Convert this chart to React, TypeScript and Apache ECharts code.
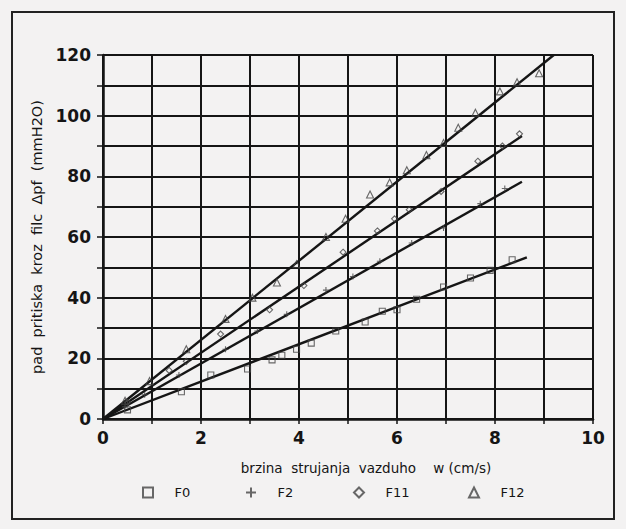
import React, { useEffect, useRef } from "react";
import * as echarts from "echarts";

// fitted line end points [w, Δpf]
const fitF0: number[][] = [[0, 0], [8.65, 53.3]];
const fitF2: number[][] = [[0, 0], [8.55, 78.2]];
const fitF11: number[][] = [[0, 0], [8.55, 93.3]];
const fitF12: number[][] = [[0, 0], [9.2, 120]];

// measured points [w, Δpf]
const dataF0: number[][] = [
  [0.5, 3], [1.6, 9], [2.2, 14.5], [2.95, 16.5], [3.45, 19.5], [3.65, 21], [3.95, 23],
  [4.25, 25], [4.75, 29], [5.35, 32], [5.7, 35.5], [6.0, 36], [6.4, 39.5], [6.95, 43.5],
  [7.5, 46.5], [7.9, 49], [8.35, 52.5],
];
const dataF2: number[][] = [
  [0.45, 4], [0.85, 8], [1.55, 14.5], [2.5, 23], [3.15, 29], [3.75, 34.5], [4.55, 42.5],
  [5.1, 47], [5.65, 52], [6.3, 58], [6.95, 63], [7.7, 71], [8.2, 76],
];
const dataF11: number[][] = [
  [0.5, 5.5], [1.35, 16], [1.7, 19], [2.4, 28], [3.4, 36], [4.1, 44], [4.9, 55], [5.6, 62],
  [5.95, 66], [6.25, 69], [6.9, 75], [7.65, 85], [8.15, 90], [8.5, 94],
];
const dataF12: number[][] = [
  [0.45, 6], [0.95, 12.5], [1.7, 23], [2.5, 33], [3.05, 40], [3.55, 45], [3.95, 51],
  [4.55, 60], [4.95, 66], [5.45, 74], [5.85, 78], [6.2, 82], [6.6, 87], [6.95, 91],
  [7.25, 96], [7.6, 101], [8.1, 108], [8.45, 111], [8.9, 114],
];

const seriesNames = ["F0", "F2", "F11", "F12"];
const xTicks = [0, 2, 4, 6, 8, 10];
const yTicks = [0, 20, 40, 60, 80, 100, 120];

const PLUS = "path://M0,5 L10,5 M5,0 L5,10";

export default function App() {
  const ref = useRef<HTMLDivElement>(null);
  useEffect(() => {
    document.body.style.margin = "0";
    if (!ref.current) return;
    const chart = echarts.init(ref.current, undefined, { renderer: "svg" });
    const font = "DejaVu Sans";
    const ink = "#151515";
    const markerStyle = { color: "transparent", borderColor: "#444", borderWidth: 1.1 };
    const fit = (name: string, data: number[][]) => ({
      name: name + " fit",
      type: "line",
      data,
      symbol: "none",
      lineStyle: { color: ink, width: 2.4 },
      z: 3,
    });
    const pts = (name: string, data: number[][], symbol: string, size: number) => ({
      name,
      type: "scatter",
      data,
      symbol,
      symbolSize: size,
      itemStyle: markerStyle,
      z: 4,
    });
    const legendPos = [137, 240, 348, 463];
    chart.setOption({
      animation: false,
      backgroundColor: "#f3f2f2",
      grid: { left: 103, right: 33, top: 55, bottom: 110 },
      xAxis: {
        type: "value",
        min: 0,
        max: 10,
        interval: 1,
        name: "brzina  strujanja  vazduho    w (cm/s)",
        nameLocation: "middle",
        nameGap: 42,
        nameTextStyle: { fontFamily: font, fontSize: 13.5, color: ink, padding: [0, 0, 0, 36] },
        axisLine: { lineStyle: { color: ink, width: 2.5 } },
        axisTick: { show: true, inside: false, length: 5, lineStyle: { color: ink, width: 1.5 } },
        axisLabel: {
          fontFamily: font,
          fontSize: 17,
          fontWeight: "bold",
          color: ink,
          margin: 10,
          formatter: (v: number) => (xTicks.includes(v) ? String(v) : ""),
        },
        splitLine: { show: true, lineStyle: { color: ink, width: 2 } },
      },
      yAxis: {
        type: "value",
        min: 0,
        max: 120,
        interval: 10,
        name: "pad  pritiska  kroz  filc  Δpf  (mmH2O)",
        nameLocation: "middle",
        nameGap: 57,
        nameTextStyle: { fontFamily: font, fontSize: 14.5, color: ink },
        axisLine: { show: true, lineStyle: { color: ink, width: 2.5 } },
        axisTick: { show: true, inside: false, length: 6, lineStyle: { color: ink, width: 1.5 } },
        axisLabel: {
          fontFamily: font,
          fontSize: 17,
          fontWeight: "bold",
          color: ink,
          margin: 12,
          formatter: (v: number) => (yTicks.includes(v) ? String(v) : ""),
        },
        splitLine: { show: true, lineStyle: { color: ink, width: 2 } },
      },
      legend: seriesNames.map((n, i) => ({
        data: [n],
        left: legendPos[i],
        top: 481,
        itemWidth: 10,
        itemHeight: 10,
        formatter: (name: string) => "    " + name,
        textStyle: { fontFamily: font, fontSize: 13, color: ink },
        selectedMode: false,
      })),
      graphic: [
        {
          type: "rect",
          shape: { x: 12, y: 12, width: 602, height: 507 },
          style: { fill: "none", stroke: "#222", lineWidth: 2 },
          silent: true,
        },
      ],
      series: [
        fit("F0", fitF0),
        fit("F2", fitF2),
        fit("F11", fitF11),
        fit("F12", fitF12),
        pts("F0", dataF0, "rect", 6),
        pts("F2", dataF2, PLUS, 6),
        pts("F11", dataF11, "diamond", 6),
        pts("F12", dataF12, "triangle", 7),
      ],
    });
    return () => chart.dispose();
  }, []);
  return <div ref={ref} style={{ width: 626, height: 529 }} />;
}
